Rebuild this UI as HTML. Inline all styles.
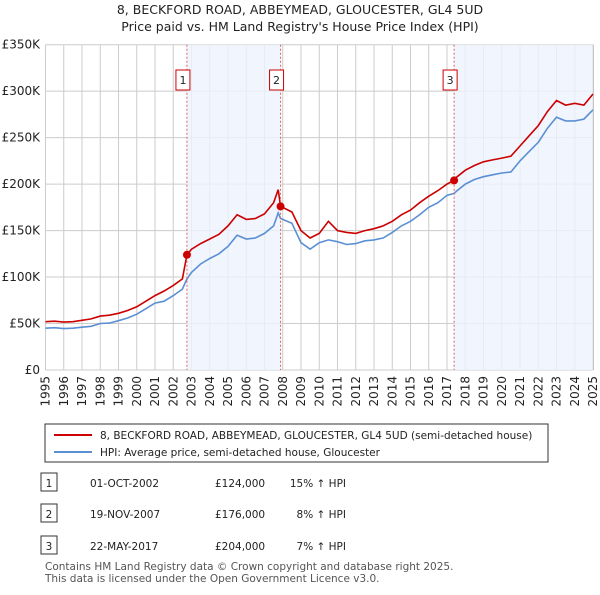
<!DOCTYPE html>
<html><head><meta charset="utf-8"><style>
body{margin:0;background:#fff;font-family:"Liberation Sans","DejaVu Sans",sans-serif;}
svg text{font-family:"DejaVu Sans","Liberation Sans",sans-serif;}
</style></head><body>
<svg id="chart" width="600" height="590" viewBox="0 0 600 590" xmlns="http://www.w3.org/2000/svg">
<text x="300" y="14" text-anchor="middle" font-size="12.5" fill="#222">8, BECKFORD ROAD, ABBEYMEAD, GLOUCESTER, GL4 5UD</text>
<text x="300" y="31" text-anchor="middle" font-size="12.5" fill="#222">Price paid vs. HM Land Registry's House Price Index (HPI)</text>
<g id="grid"></g><g id="shade"></g><g id="lines"></g><g id="marks"></g>
<g id="legend">
<rect x="45" y="424" width="503" height="38" fill="#fff" stroke="#333"/>
<line x1="54" y1="435" x2="92" y2="435" stroke="#cc0000" stroke-width="2"/>
<text x="100" y="439" font-size="10.5" fill="#222">8, BECKFORD ROAD, ABBEYMEAD, GLOUCESTER, GL4 5UD (semi-detached house)</text>
<line x1="54" y1="452" x2="92" y2="452" stroke="#5b8fd4" stroke-width="2"/>
<text x="100" y="456" font-size="10.5" fill="#222">HPI: Average price, semi-detached house, Gloucester</text>
</g>
<g id="table" font-size="10.5" fill="#222"></g>
<text x="45" y="570" font-size="10.5" fill="#555">Contains HM Land Registry data © Crown copyright and database right 2025.</text>
<text x="45" y="582" font-size="10.5" fill="#555">This data is licensed under the Open Government Licence v3.0.</text>
</svg>
<script>
const years=[1995,1995.5,1996,1996.5,1997,1997.5,1998,1998.5,1999,1999.5,2000,2000.5,2001,2001.5,2002,2002.5,2002.75,2003,2003.5,2004,2004.5,2005,2005.5,2006,2006.5,2007,2007.5,2007.75,2007.88,2008.5,2009,2009.5,2010,2010.5,2011,2011.5,2012,2012.5,2013,2013.5,2014,2014.5,2015,2015.5,2016,2016.5,2017,2017.39,2017.5,2018,2018.5,2019,2019.5,2020,2020.5,2021,2021.5,2022,2022.5,2023,2023.5,2024,2024.5,2025];
const hpiValues=[45,45.5,44.5,45,46,47,50,50.5,53,56,60,66,72,74,80,87,98,105,114,120,125,133,145,141,142,147,155,169,163,158,137,130,137,140,138,135,136,139,140,142,148,155,160,167,175,180,188,190,192,200,205,208,210,212,213,225,235,245,260,272,268,268,270,280];
const priceValues=[52,52.5,51.5,52,53.5,55,58,59,61,64,68,74,80,85,91,98,124,130,136,141,146,155,167,162,163,168,180,194,176,170,150,142,147,160,150,148,147,150,152,155,160,167,172,180,187,193,200,204,207,215,220,224,226,228,230,241,252,263,278,290,285,287,285,297];
const sales=[{n:"1",year:2002.75,price:124,date:"01-OCT-2002",amt:"£124,000",pct:"15% ↑ HPI"},{n:"2",year:2007.88,price:176,date:"19-NOV-2007",amt:"£176,000",pct:"8% ↑ HPI"},{n:"3",year:2017.39,price:204,date:"22-MAY-2017",amt:"£204,000",pct:"7% ↑ HPI"}];
const yTicks=[0,50,100,150,200,250,300,350];
const yTickLabels=["£0","£50K","£100K","£150K","£200K","£250K","£300K","£350K"];
const xTicks=[1995,1996,1997,1998,1999,2000,2001,2002,2003,2004,2005,2006,2007,2008,2009,2010,2011,2012,2013,2014,2015,2016,2017,2018,2019,2020,2021,2022,2023,2024,2025];
const X0=45.5,X1=593,Y0=370,Y1=44.7;
const x=v=>X0+(v-1995)/30*(X1-X0);
const y=v=>Y0-v/350*(Y0-Y1);
const NS="http://www.w3.org/2000/svg";
function mk(t,p,a){const e=document.createElementNS(NS,t);for(const k in a)e.setAttribute(k,a[k]);p.appendChild(e);return e;}
const grid=document.getElementById('grid');
xTicks.forEach(t=>{const l=mk('line',grid,{x1:x(t),x2:x(t),y1:Y1,y2:Y0,stroke:'#ccc'});


const tx=mk('text',grid,{x:0,y:0,'font-size':12,fill:'#222','text-anchor':'end',transform:`translate(${x(t)+4},${Y0+6}) rotate(-90)`});tx.textContent=t;

});
yTicks.forEach((t,i)=>{const l=mk('line',grid,{x1:X0,x2:X1,y1:y(t),y2:y(t),stroke:'#ccc'});


const tx=mk('text',grid,{x:40,y:y(t)+4,'font-size':12,fill:'#222','text-anchor':'end'});tx.textContent=yTickLabels[i];

});
const ax=mk('line',grid,{x1:X1,x2:X1,y1:Y1,y2:Y0,stroke:'#888'});


const sh=document.getElementById('shade');
[[sales[0].year,sales[1].year],[sales[2].year,2025]].forEach(r=>{const e=mk('rect',sh,{x:x(r[0]),y:Y1,width:x(r[1])-x(r[0]),height:Y0-Y1,fill:'#eef3fc',opacity:0.8});

});
const ln=document.getElementById('lines');
const path=vals=>vals.map((v,i)=>(i?'L':'M')+x(years[i]).toFixed(1)+','+y(v).toFixed(1)).join('');
const hp=mk('path',ln,{d:path(hpiValues),fill:'none',stroke:'#5b8fd4','stroke-width':1.6});


const pp=mk('path',ln,{d:path(priceValues),fill:'none',stroke:'#cc0000','stroke-width':1.6});


const mg=document.getElementById('marks');
const tb=document.getElementById('table');
sales.forEach((s,i)=>{
const v=mk('line',mg,{x1:x(s.year),x2:x(s.year),y1:Y1,y2:Y0,stroke:'#e06060','stroke-dasharray':'2,2'});


const b=mk('rect',mg,{x:x(s.year)-11,y:70,width:14,height:20,fill:'#fff',stroke:'#cc0000'});


const t=mk('text',mg,{x:x(s.year)-4,y:84,'font-size':11,'text-anchor':'middle',fill:'#222'});t.textContent=s.n;


const c=mk('circle',mg,{cx:x(s.year),cy:y(s.price),r:4,fill:'#cc0000'});


const ry=[483,514,546][i];
const rb=mk('rect',tb,{x:41,y:ry-10,width:16,height:18,fill:'#fff',stroke:'#333'});


[[49,s.n,'middle'],[90,s.date,'start'],[215,s.amt,'start'],[346,s.pct,'end']].forEach(a=>{const e=mk('text',tb,{x:a[0],y:ry+4,'text-anchor':a[2]});e.textContent=a[1];

});
});
</script>
</body></html>
